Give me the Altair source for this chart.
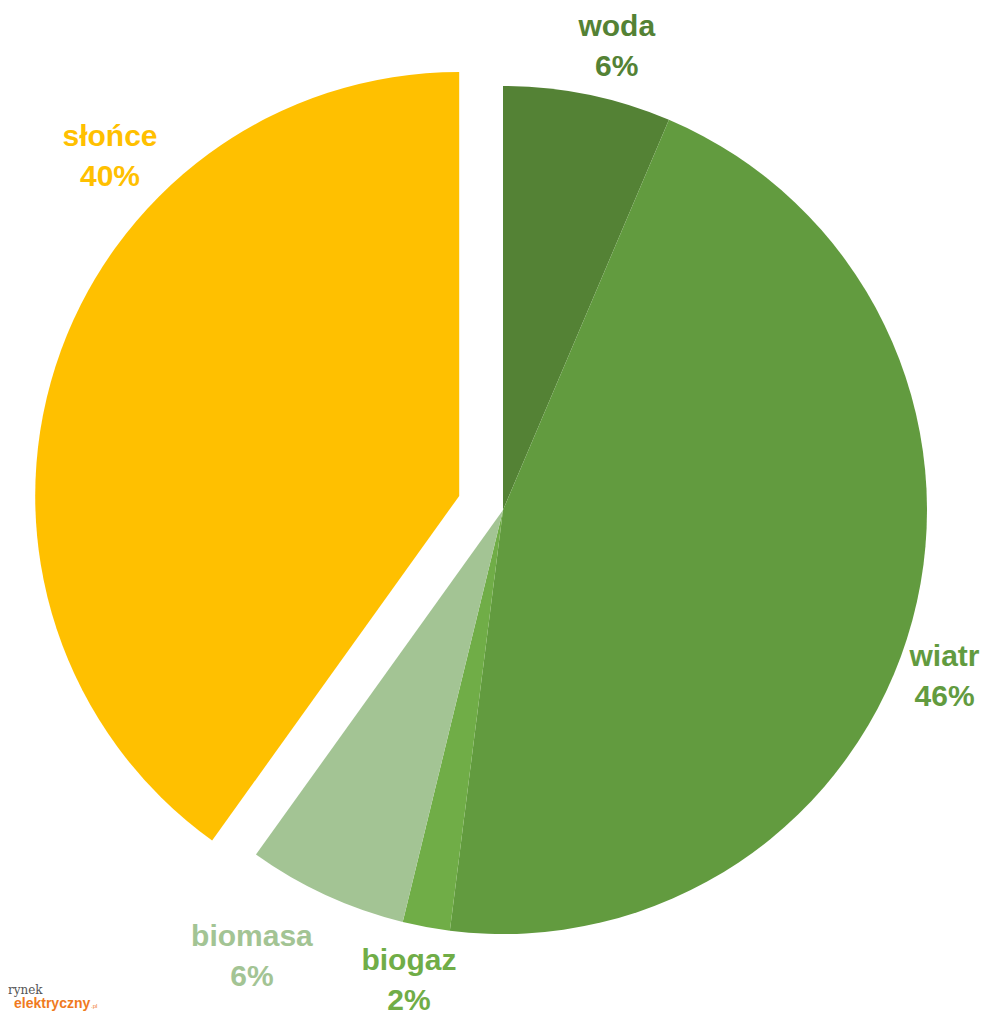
import math
import altair as alt
import pandas as pd

# ---- data ----
categories = ["woda", "wiatr", "biogaz", "biomasa", "słońce"]
shares = [6.4, 45.6, 1.8, 6.1, 40.1]          # % (slice sizes)
colors = ["#548235", "#629B3F", "#70AD47", "#A3C494", "#FFC000"]
exploded = [False, False, False, False, True]

# ---- layout (not data) ----
W, H = 992, 1016
CX, CY = 495, 502
R = 424
EXPLODE = 46
# label placement: angle (deg, clockwise from top) and distance from centre
label_angle = [13.8, 110.7, 191.3, 209.3, 311.9]
label_radius = [477, 472, 480, 513, 528]
FONT = "Liberation Sans, Arial, sans-serif"
LINE_H = 40

total = sum(shares)
rows = []
acc = 0.0
for c, v, col, ex, la, lr in zip(categories, shares, colors, exploded, label_angle, label_radius):
    rows.append(dict(cat=c, start=acc, end=acc + v, color=col, exploded=ex,
                     label=f"{c}\n{round(v / total * 100):d}%",
                     la=math.radians(la), lr=lr))
    acc += v
df = pd.DataFrame(rows)

theta_scale = alt.Scale(domain=[0, total], range=[0, 2 * math.pi])
color_scale = alt.Scale(domain=categories, range=colors)

def arcs(sub, cx, cy):
    return alt.Chart(sub).mark_arc(radius=R, strokeWidth=0).encode(
        theta=alt.Theta("start:Q", scale=theta_scale),
        theta2="end:Q",
        color=alt.Color("cat:N", scale=color_scale, legend=None),
        x=alt.value(cx), y=alt.value(cy),
    )

ex_row = df[df.exploded].iloc[0]
mid = (ex_row.start + ex_row.end) / 2 / total * 2 * math.pi
ex_dx = EXPLODE * math.sin(mid)
ex_dy = -EXPLODE * math.cos(mid)

base = arcs(df[~df.exploded], CX, CY)
expl = arcs(df[df.exploded], CX + ex_dx, CY + ex_dy)

labels = alt.Chart(df).mark_text(
    font=FONT, fontSize=30, fontWeight="bold", lineBreak="\n", lineHeight=LINE_H,
    align="center", baseline="middle", dy=-LINE_H / 2
).encode(
    theta=alt.Theta("la:Q", scale=None),
    radius=alt.Radius("lr:Q", scale=None),
    text="label:N",
    color=alt.Color("cat:N", scale=color_scale, legend=None),
    x=alt.value(CX), y=alt.value(CY),
)

logo1 = alt.Chart(pd.DataFrame({"t": ["rynek"]})).mark_text(
    font="DejaVu Serif", fontSize=12, color="#555555", align="left", baseline="alphabetic"
).encode(text="t:N", x=alt.value(0), y=alt.value(986))
logo2 = alt.Chart(pd.DataFrame({"t": ["elektryczny"]})).mark_text(
    font="Liberation Sans, Arial, sans-serif", fontSize=14, fontWeight="bold",
    color="#F07A1E", align="left", baseline="alphabetic"
).encode(text="t:N", x=alt.value(6), y=alt.value(1000))
logo3 = alt.Chart(pd.DataFrame({"t": [".pl"]})).mark_text(
    font="Liberation Sans", fontSize=6, color="#F07A1E", align="left", baseline="alphabetic"
).encode(text="t:N", x=alt.value(83), y=alt.value(1000))

chart = alt.layer(base, expl, labels, logo1, logo2, logo3).properties(
    width=W, height=H, autosize=alt.AutoSizeParams(type="none"), padding=0
).configure(background="white").configure_view(stroke="transparent", strokeWidth=0)

chart.save("out.html", embed_options={"renderer": "svg", "actions": False})
